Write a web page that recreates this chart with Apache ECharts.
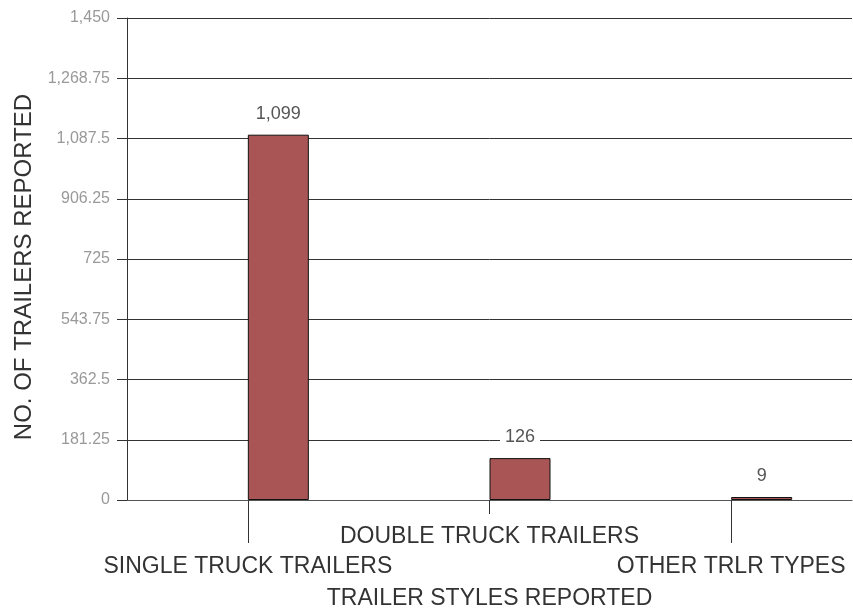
<!DOCTYPE html>
<html>
<head>
<meta charset="utf-8">
<script src="https://cdn.jsdelivr.net/npm/echarts@6/dist/echarts.min.js"></script>
<style>
  html, body { margin: 0; padding: 0; background: #fff; }
  #chart { width: 853px; height: 611px; }
</style>
</head>
<body>
<div id="chart"></div>
<script>
const categories = ['SINGLE TRUCK TRAILERS', 'DOUBLE TRUCK TRAILERS', 'OTHER TRLR TYPES'];
const trailers = [1099, 126, 9];
const yTicks = [0, 181.25, 362.5, 543.75, 725, 906.25, 1087.5, 1268.75, 1450];

const font = 'Liberation Sans, Arial, sans-serif';
const fmt = (v) => v.toLocaleString('en-US', {maximumFractionDigits: 2});

const myChart = echarts.init(document.getElementById('chart'));
const option = {
  animation: false,
  grid: {left: 127, right: 1, top: 18, bottom: 111, outerBoundsMode: 'none', containLabel: false},
  xAxis: [{
    type: 'category',
    data: categories,
    name: 'TRAILER STYLES REPORTED',
    nameLocation: 'middle',
    nameGap: 86,
    nameTextStyle: {fontFamily: font, fontSize: 23, color: '#333'},
    axisLine: {show: true, onZero: false, lineStyle: {color: '#555', width: 1}},
    axisTick: {show: true, alignWithLabel: true, interval: 0, length: 14, lineStyle: {color: '#333', width: 1}},
    axisLabel: {
      interval: 0,
      margin: 22,
      fontFamily: font,
      fontSize: 23,
      color: '#333',
      lineHeight: 30,
      formatter: (v, i) => (i % 2 === 1 ? v : '\n' + v)
    }
  }, {
    type: 'category',
    data: categories,
    position: 'bottom',
    axisLine: {show: false, onZero: false},
    axisLabel: {show: false},
    splitLine: {show: false},
    axisTick: {
      show: true,
      alignWithLabel: true,
      length: 43,
      interval: (i) => i % 2 === 0,
      lineStyle: {color: '#333', width: 1}
    }
  }],
  yAxis: {
    type: 'value',
    min: 0,
    max: yTicks[yTicks.length - 1],
    interval: yTicks[1],
    name: 'NO. OF TRAILERS REPORTED',
    nameLocation: 'middle',
    nameGap: 88,
    nameTextStyle: {fontFamily: font, fontSize: 24, color: '#333', padding: [0, 16, 0, 0]},
    axisLine: {show: true, lineStyle: {color: '#333'}},
    axisTick: {show: true, length: 10, lineStyle: {color: '#333'}},
    axisLabel: {
      margin: 17,
      fontFamily: font,
      fontSize: 16,
      color: '#999',
      formatter: (v) => fmt(v)
    },
    splitLine: {lineStyle: {color: '#333', width: 1}}
  },
  series: [{
    type: 'bar',
    data: trailers.map(() => '-'),
    barWidth: 61,
    barGap: 0
  }, {
    type: 'bar',
    data: trailers,
    barWidth: 61,
    barGap: 0,
    itemStyle: {color: '#a95555', borderColor: '#111', borderWidth: 1},
    label: {
      show: true,
      position: 'top',
      distance: 12,
      fontFamily: font,
      fontSize: 18,
      color: '#555',
      backgroundColor: '#fff',
      padding: [0, 5],
      formatter: (p) => fmt(p.value)
    }
  }]
};

myChart.setOption(option);
</script>
</body>
</html>
